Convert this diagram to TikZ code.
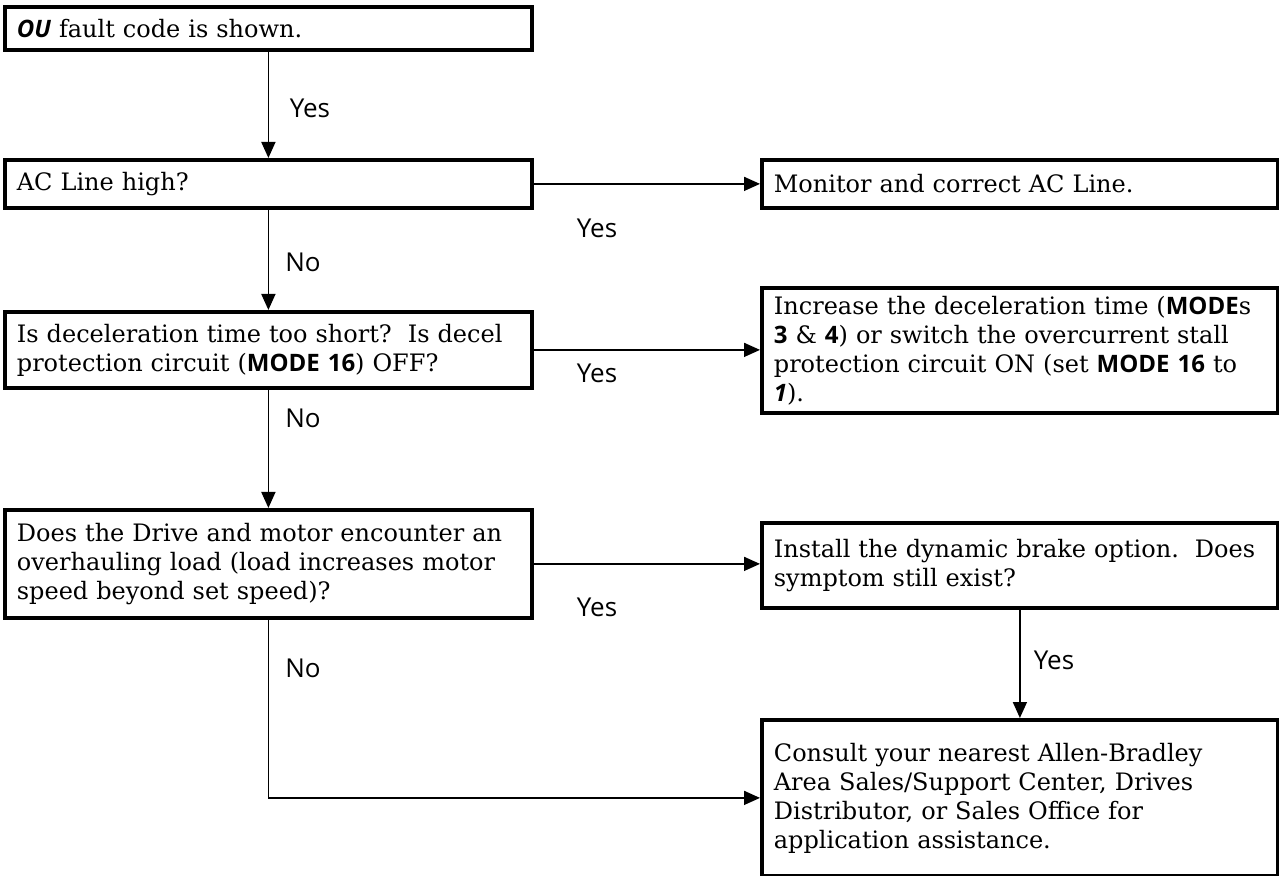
\documentclass[tikz,border=0pt]{standalone}
\usepackage{fontspec}
\setmainfont{DejaVu Serif}
\setsansfont{Open Sans}
\usetikzlibrary{arrows.meta}

\newcommand{\modetxt}[1]{{\sffamily\bfseries #1}}
\newcommand{\codetxt}[1]{{\sffamily\bfseries\itshape #1}}

\begin{document}
\begin{tikzpicture}[x=0.5pt, y=-0.5pt,
    every node/.style={font=\fontsize{12}{14.5}\selectfont},
    lbox/.style={draw, line width=1.9pt, anchor=north west, align=left,
      inner xsep=6pt, inner ysep=0pt, minimum width=263.5pt, text width=251.5pt},
    rbox/.style={lbox, minimum width=258pt, text width=246pt},
    lab/.style={font=\sffamily\fontsize{13}{15}\selectfont, inner sep=0pt},
    arr/.style={line width=0.8pt, -{Triangle[length=8pt, width=7pt]}}]
  \useasboundingbox (0,0) rectangle (1279,876);

  % Left column: the checks -------------------------------------------------
  \node[lbox, minimum height=21.5pt] (fault) at (3,5)
    {\codetxt{OU} fault code is shown.};
  \node[lbox, minimum height=24pt] (acline) at (3,158) {AC Line high?};
  \node[lbox, minimum height=38pt] (decel) at (3,310)
    {Is deceleration time too short?\ \ Is decel\\
     protection circuit (\modetxt{MODE 16}) OFF?};
  \node[lbox, minimum height=54pt] (overhaul) at (3,508)
    {Does the Drive and motor encounter an\\
     overhauling load (load increases motor\\
     speed beyond set speed)?};

  % Right column: the remedies ----------------------------------------------
  \node[rbox, minimum height=24pt] (monitor) at (760,158)
    {Monitor and correct AC Line.};
  \node[rbox, minimum height=62.5pt] (increase) at (760,286)
    {Increase the deceleration time (\modetxt{MODE}s\\
     \modetxt{3} \& \modetxt{4}) or switch the overcurrent stall\\
     protection circuit ON (set \modetxt{MODE 16} to\\
     \codetxt{1}).};
  \node[rbox, minimum height=42.5pt] (install) at (760,521)
    {Install the dynamic brake option.\ \ Does\\
     symptom still exist?};
  \node[rbox, minimum height=78pt] (consult) at (760,718)
    {Consult your nearest Allen-Bradley\\
     Area Sales/Support Center, Drives\\
     Distributor, or Sales Office for\\
     application assistance.};

  % Branch labels ------------------------------------------------------------
  \node[lab] (yesa) at (310,108) {Yes};
  \node[lab] (noa)  at (303,262) {No};
  \node[lab] (yesb) at (597,228) {Yes};
  \node[lab] (yesc) at (597,373) {Yes};
  \node[lab] (nob)  at (303,418) {No};
  \node[lab] (yesd) at (597,607) {Yes};
  \node[lab] (noc)  at (303,668) {No};
  \node[lab] (yese) at (1054,660) {Yes};

  % Connectors ---------------------------------------------------------------
  \draw[arr] (fault) -- (acline);
  \draw[arr] (acline) -- (decel);
  \draw[arr] (decel) -- (overhaul);
  \draw[arr] (acline.east) -- (acline.east -| monitor.west);
  \draw[arr] (decel.east) -- (decel.east -| increase.west);
  \draw[arr] (overhaul.east) -- (overhaul.east -| install.west);
  \draw[arr] (install) -- (consult);
  \draw[arr] (overhaul.south) |- (consult.west);

\end{tikzpicture}
\end{document}
